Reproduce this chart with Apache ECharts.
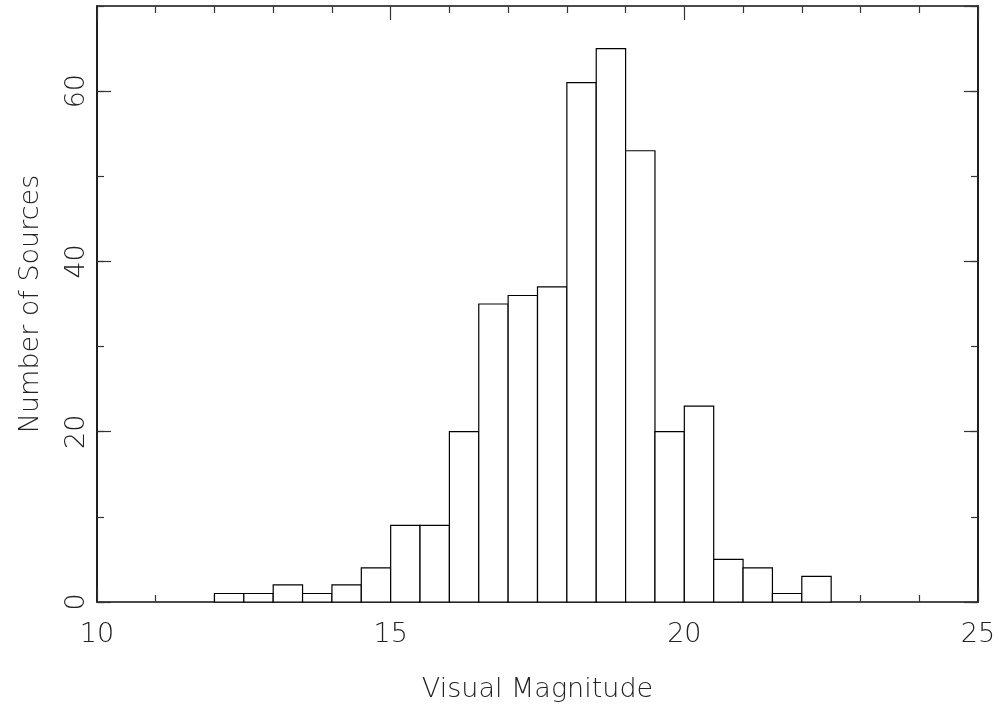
<!DOCTYPE html>
<html>
<head>
<meta charset="utf-8">
<script src="https://cdn.jsdelivr.net/npm/echarts@6/dist/echarts.min.js"></script>
<style>html,body{margin:0;padding:0;background:#fff;}#c{width:999px;height:704px;}</style>
</head>
<body>
<div id="c"></div>
<script>
var binStart = [12.0, 12.5, 13.0, 13.5, 14.0, 14.5, 15.0, 15.5, 16.0, 16.5, 17.0, 17.5, 18.0, 18.5, 19.0, 19.5, 20.0, 20.5, 21.0, 21.5, 22.0];
var binWidth = 0.5;
var counts = [1, 1, 2, 1, 2, 4, 9, 9, 20, 35, 36, 37, 61, 65, 53, 20, 23, 5, 4, 1, 3];
var xTitle = 'Visual Magnitude';
var yTitle = 'Number of Sources';

var data = binStart.map(function (s, i) { return [s, s + binWidth, counts[i]]; });
var FONT = '"DejaVu Sans", sans-serif';
var TXT = { fontSize: 27, fontFamily: FONT, fontWeight: 200, color: '#222' };
var lineStyle = { color: '#111', width: 1.5 };

var chart = echarts.init(document.getElementById('c'), null, { renderer: 'canvas' });
function yAx(pos, interval, len, showLabel, name) {
  return {
    type: 'value', position: pos, min: 0, max: 70, interval: interval,
    axisLine: { show: true, onZero: false, lineStyle: lineStyle },
    axisTick: { show: true, inside: true, length: len, lineStyle: { color: '#333', width: 1.2 } },
    axisLabel: showLabel ? Object.assign({ show: true, rotate: 90, margin: 7, showMaxLabel: false }, TXT) : { show: false },
    splitLine: { show: false },
    name: name || '', nameLocation: 'middle', nameGap: 53, nameRotate: 90,
    nameTextStyle: TXT
  };
}
function xAx(pos, showLabel, name) {
  return {
    type: 'value', position: pos, min: 10, max: 25, interval: 5,
    axisLine: { show: true, onZero: false, lineStyle: lineStyle },
    axisTick: { show: true, inside: true, length: 14, lineStyle: { color: '#333', width: 1.2 } },
    minorTick: { show: true, splitNumber: 5, length: 7, lineStyle: { color: '#333', width: 1.2 } },
    axisLabel: showLabel ? Object.assign({ show: true, margin: 19 }, TXT) : { show: false },
    splitLine: { show: false }, minorSplitLine: { show: false },
    name: name || '', nameLocation: 'middle', nameGap: 74,
    nameTextStyle: TXT
  };
}
chart.setOption({
  animation: false,
  backgroundColor: '#fff',
  grid: { left: 97, right: 21, top: 6, bottom: 102, containLabel: false, outerBoundsMode: 'none' },
  xAxis: [xAx('bottom', true, xTitle), xAx('top', false)],
  yAxis: [yAx('left', 20, 14, true, yTitle), yAx('left', 10, 7, false), yAx('right', 20, 14, false), yAx('right', 10, 7, false)],
  series: [{
    type: 'custom',
    xAxisIndex: 0, yAxisIndex: 0,
    data: data,
    encode: { x: [0, 1], y: 2 },
    renderItem: function (params, api) {
      var p0 = api.coord([api.value(0), 0]);
      var p1 = api.coord([api.value(1), api.value(2)]);
      return {
        type: 'rect',
        shape: { x: p0[0], y: p1[1], width: p1[0] - p0[0], height: p0[1] - p1[1] },
        style: { fill: '#fff', stroke: '#000', lineWidth: 1.2 }
      };
    }
  }]
});
</script>
</body>
</html>
